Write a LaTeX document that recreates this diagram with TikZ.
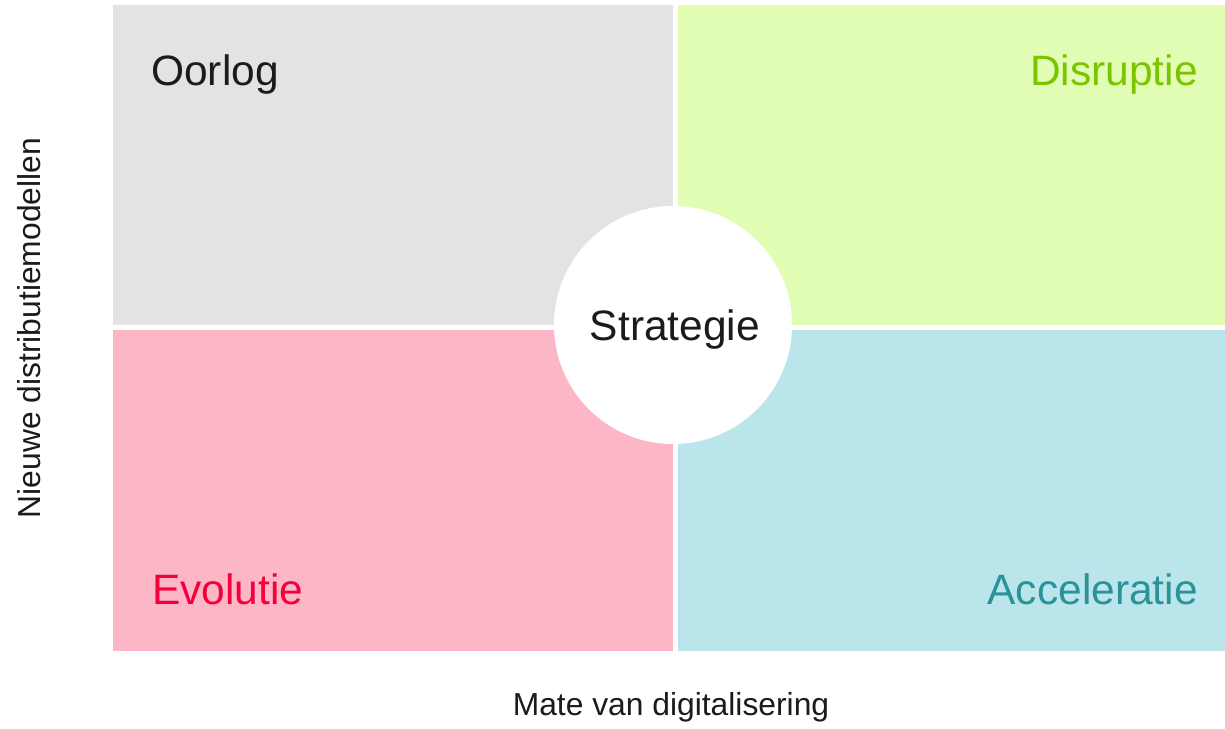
\documentclass[tikz,border=0pt]{standalone}
\usepackage{fontspec}
\setmainfont{Liberation Sans}
\definecolor{qgray}{HTML}{E3E3E3}
\definecolor{qgreen}{HTML}{E1FEB4}
\definecolor{qpink}{HTML}{FDB6C5}
\definecolor{qcyan}{HTML}{BAE6EB}
\definecolor{tgreen}{HTML}{7AC400}
\definecolor{tred}{HTML}{F5003D}
\definecolor{tteal}{HTML}{2A9299}
\definecolor{tdark}{HTML}{1E1A1A}
\begin{document}
\begin{tikzpicture}[x=1pt,y=-1pt,
  big/.style={font=\fontsize{42.5}{48}\selectfont, inner sep=0pt},
  axis/.style={font=\fontsize{31.8}{36}\selectfont, inner sep=0pt, text=tdark}]
\useasboundingbox (0,0) rectangle (1225,728);
\fill[white] (0,0) rectangle (1225,728);
\fill[qgray]  (113,5) rectangle (672.7,325);
\fill[qgreen] (677.7,5) rectangle (1225,325);
\fill[qpink]  (113,330) rectangle (672.7,651);
\fill[qcyan]  (677.7,330) rectangle (1225,651);
\node[circle, fill=white, minimum size=238pt, inner sep=0pt] (c) at (673,325) {};
\node[big, text=tdark, anchor=base] (s) at (675,340) {Strategie};
\node[big, text=tdark, anchor=base west] (o) at (151,85) {Oorlog};
\node[big, text=tgreen, anchor=base east] (d) at (1198,85) {Disruptie};
\node[big, text=tred, anchor=base west] (e) at (152,604) {Evolutie};
\node[big, text=tteal, anchor=base east] (a) at (1198,604) {Acceleratie};
\node[axis, anchor=base] (x) at (671,715) {Mate van digitalisering};
\node[axis, anchor=base, rotate=90] (y) at (40,328) {Nieuwe distributiemodellen};
\end{tikzpicture}
\end{document}
